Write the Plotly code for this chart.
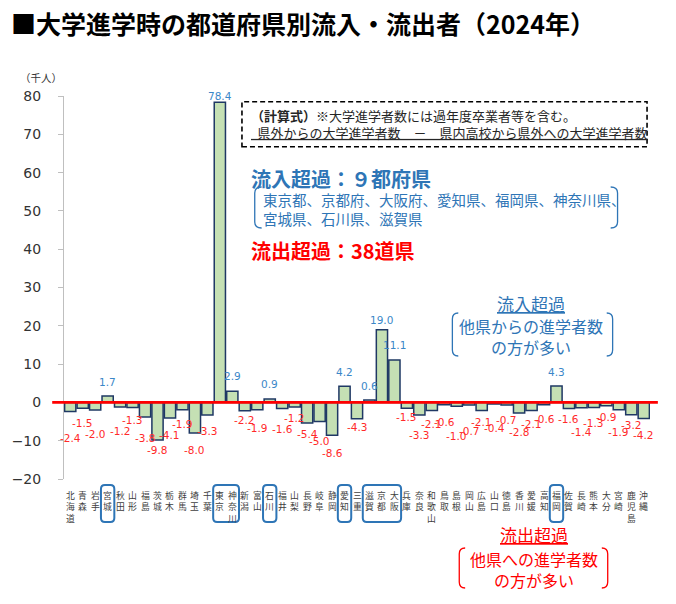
import plotly.graph_objects as go

# ---------------- data ----------------
categories = ["北海道", "青森", "岩手", "宮城", "秋田", "山形", "福島", "茨城", "栃木", "群馬",
              "埼玉", "千葉", "東京", "神奈川", "新潟", "富山", "石川", "福井", "山梨", "長野",
              "岐阜", "静岡", "愛知", "三重", "滋賀", "京都", "大阪", "兵庫", "奈良", "和歌山",
              "鳥取", "島根", "岡山", "広島", "山口", "徳島", "香川", "愛媛", "高知", "福岡",
              "佐賀", "長崎", "熊本", "大分", "宮崎", "鹿児島", "沖縄"]
net_flow = [-2.4, -1.5, -2.0, 1.7, -1.2, -1.3, -3.8, -9.8, -4.1, -1.9,
            -8.0, -3.3, 78.4, 2.9, -2.2, -1.9, 0.9, -1.6, -1.2, -5.4,
            -5.0, -8.6, 4.2, -4.3, 0.6, 19.0, 11.1, -1.5, -3.3, -2.1,
            -0.6, -1.0, -0.7, -2.1, -0.4, -0.7, -2.8, -2.1, -0.6, 4.3,
            -1.6, -1.4, -1.3, -0.9, -1.9, -3.2, -4.2]
highlight_groups = [["宮城"], ["東京", "神奈川"], ["石川"], ["愛知"], ["滋賀", "京都", "大阪"], ["福岡"]]
y_ticks = [-20, -10, 0, 10, 20, 30, 40, 50, 60, 70, 80]

# label placement (pixel distance from bar end to label centre) - style only
label_gap = [26, 15, 24, 14, 24, 13, 21, 10, 17, 14, 17, 16,
             6, 15, 9, 18, 15, 20, 11, 11, 19, 18, 14, 8,
             14, 10, 15, 9, 20, 14, 17,
             30, 26, 12, 24, 15, 19, 14, 14,
             14, 10, 24, 16, 11, 22, 10, 17]

# ---------------- geometry ----------------
W, H = 676, 604
L, R, T, B = 54, 650, 96, 479
PW, PH = R - L, B - T
N = len(categories)
pitch = PW / N

def pp(x, y):
    return (x - L) / PW, (B - y) / PH

def path_from(points_cmds):
    out = []
    for cmd, pts in points_cmds:
        s = cmd
        for (x, y) in pts:
            px_, py_ = pp(x, y)
            s += f" {px_:.5f},{py_:.5f}"
        out.append(s)
    return " ".join(out)

def rrect(x0, y0, x1, y1, r):
    return path_from([
        ("M", [(x0 + r, y0)]), ("L", [(x1 - r, y0)]), ("Q", [(x1, y0), (x1, y0 + r)]),
        ("L", [(x1, y1 - r)]), ("Q", [(x1, y1), (x1 - r, y1)]), ("L", [(x0 + r, y1)]),
        ("Q", [(x0, y1), (x0, y1 - r)]), ("L", [(x0, y0 + r)]), ("Q", [(x0, y0), (x0 + r, y0)]),
    ]) + " Z"

def bracket(xo, xi, y0, y1, r=6):
    return path_from([
        ("M", [(xi, y0)]), ("Q", [(xo, y0), (xo, y0 + r)]),
        ("L", [(xo, y1 - r)]), ("Q", [(xo, y1), (xi, y1)]),
    ])

BLUE = "#2E75B6"
LBLUE = "#3A87C8"
RED = "#FF0000"
LRED = "#FF2A2A"
JP = "Noto Sans CJK JP"

fig = go.Figure()
fig.add_trace(go.Bar(
    x=categories, y=net_flow,
    marker=dict(color="#C5E0B4", line=dict(color="#1F3864", width=1.5)),
    hoverinfo="x+y",
))

annotations = []
# data labels
for c, v, g in zip(categories, net_flow, label_gap):
    annotations.append(dict(
        x=c, y=v, xref="x", yref="y", text=f"{v:.1f}", showarrow=False,
        yanchor="middle", xanchor="center", yshift=g if v > 0 else -g, borderpad=0,
        font=dict(family="DejaVu Sans", size=10.5, color=LBLUE if v > 0 else LRED),
    ))

# vertical category labels (one text per category, stacked characters)
for c in categories:
    annotations.append(dict(
        x=c, xref="x", y=pp(0, 488)[1], yref="paper", text="<br>".join(list(c)),
        showarrow=False, xanchor="center", yanchor="top", borderpad=0,
        font=dict(family=JP, size=8.8, color="#404040"),
    ))

def txt(x, y, text, size, color, anchor="left", family=JP):
    px_, py_ = pp(x, y)
    annotations.append(dict(
        x=px_, y=py_, xref="paper", yref="paper", text=text, showarrow=False,
        xanchor=anchor, yanchor="middle", align=anchor, borderpad=0,
        font=dict(family=family, size=size, color=color),
    ))

txt(-1, 23, "<b>■大学進学時の都道府県別流入・流出者（2024年）</b>", 25, "#000000")
txt(8, 77, "（千人）", 10.5, "#333333")
txt(243, 124.2, "<b>（計算式）</b>※大学進学者数には過年度卒業者等を含む。<br>"
               "<u>\u2002県外からの大学進学者数　－　県内高校から県外への大学進学者数</u>", 13, "#262626")
txt(243, 178, "<b>流入超過：９都府県</b>", 20, BLUE)
txt(255, 209.2, "東京都、京都府、大阪府、愛知県、福岡県、神奈川県、<br>宮城県、石川県、滋賀県", 14.5, BLUE)
txt(243, 250, "<b>流出超過：38道県</b>", 20, RED)
txt(529, 303, "<u>流入超過</u>", 17, BLUE, "center")
txt(529, 336.4, "他県からの進学者数<br>の方が多い", 16, BLUE, "center")
txt(532, 534, "<u>流出超過</u>", 17, RED, "center")
txt(532, 569.6, "他県への進学者数<br>の方が多い", 16, RED, "center")

shapes = []
# dashed formula box
x0p, y1p = pp(235, 101.7)
x1p, y0p = pp(647, 146.7)
shapes.append(dict(type="rect", xref="paper", yref="paper", x0=x0p, x1=x1p, y0=y0p, y1=y1p,
                   line=dict(color="#000000", width=1.6, dash="5px,3px")))
# brackets
for xo, xi, y0, y1, col in [(248, 255, 187, 228, BLUE), (617, 610, 187, 228, BLUE),
                            (449, 455, 313, 356, BLUE), (612, 606, 313, 356, BLUE),
                            (456, 462, 548, 588, RED), (607, 601, 548, 588, RED)]:
    shapes.append(dict(type="path", xref="paper", yref="paper", path=bracket(xo, xi, y0, y1),
                       line=dict(color=col, width=1.3)))
# highlight boxes around category labels
for grp in highlight_groups:
    i0 = categories.index(grp[0])
    i1 = categories.index(grp[-1])
    bx0 = L + (i0 + 0.5) * pitch - 6.8
    bx1 = L + (i1 + 0.5) * pitch + 6.8
    shapes.append(dict(type="path", xref="paper", yref="paper", path=rrect(bx0, 485, bx1, 522, 4),
                       line=dict(color="#2E75B6", width=2)))
# red zero line
zx0, _ = pp(42, 0)
zx1, _ = pp(658, 0)
shapes.append(dict(type="line", xref="paper", yref="y", x0=zx0, x1=zx1, y0=0, y1=0,
                   line=dict(color=RED, width=2.6), layer="above"))

fig.update_layout(
    width=W, height=H, autosize=False,
    margin=dict(l=L, r=W - R, t=T, b=H - B, pad=0),
    paper_bgcolor="white", plot_bgcolor="white",
    showlegend=False, bargap=0.1,
    annotations=annotations, shapes=shapes,
    xaxis=dict(type="category", range=[-0.5, N - 0.5], showticklabels=False, showgrid=False,
               zeroline=False, showline=False, ticks=""),
    yaxis=dict(range=[-20, 80], tickvals=y_ticks, showgrid=False, zeroline=False,
               showline=True, linecolor="#BFBFBF", linewidth=1, ticks="outside", ticklen=5,
               tickcolor="#BFBFBF", ticklabelstandoff=14,
               tickfont=dict(family="DejaVu Sans", size=14, color="#333333")),
)

fig.write_html("out.html", config={"displayModeBar": False},
               post_script="document.body.style.margin='0';")
